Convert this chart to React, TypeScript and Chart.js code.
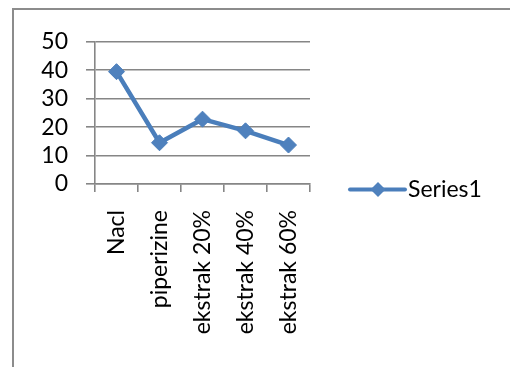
import React, { useEffect, useRef } from "react";
import { Chart, registerables } from "chart.js";

Chart.register(...registerables);

const categories = ["Nacl", "piperizine", "ekstrak 20%", "ekstrak 40%", "ekstrak 60%"];
const series1 = [39.5, 14.5, 22.8, 18.7, 13.7];
const seriesName = "Series1";
const yTicks = [0, 10, 20, 30, 40, 50];

const FONT = "Lato, 'Open Sans', sans-serif";
const FONT_SIZE = 23;
const LINE_COLOR = "#4A7EBB";
const MARKER_FILL = "#4F81BD";
const GRID = "#868686";

const legendPlugin = {
  id: "excelLegend",
  afterDraw(chart: any) {
    const { ctx, chartArea } = chart;
    const ds = chart.data.datasets[0];
    const x0 = chartArea.right + 40;
    const y = chart.height / 2 + 1;
    ctx.save();
    ctx.strokeStyle = ds.borderColor;
    ctx.lineWidth = 4;
    ctx.lineCap = "round";
    ctx.beginPath();
    ctx.moveTo(x0, y);
    ctx.lineTo(x0 + 55, y);
    ctx.stroke();
    const cx = x0 + 28;
    const r = 7.5;
    ctx.fillStyle = ds.pointBackgroundColor;
    ctx.beginPath();
    ctx.moveTo(cx, y - r);
    ctx.lineTo(cx + r, y);
    ctx.lineTo(cx, y + r);
    ctx.lineTo(cx - r, y);
    ctx.closePath();
    ctx.fill();
    ctx.fillStyle = "#000";
    ctx.font = `${FONT_SIZE}px ${FONT}`;
    ctx.textAlign = "left";
    ctx.textBaseline = "middle";
    ctx.fillText(ds.label, x0 + 58, y);
    ctx.restore();
  },
};

export default function App() {
  const ref = useRef<HTMLCanvasElement | null>(null);

  useEffect(() => {
    if (!ref.current) return;
    const chart = new Chart(ref.current, {
      type: "line",
      data: {
        labels: categories,
        datasets: [
          {
            label: seriesName,
            data: series1,
            borderColor: LINE_COLOR,
            backgroundColor: MARKER_FILL,
            borderWidth: 4.5,
            pointStyle: "rectRot",
            pointRadius: 8,
            pointBackgroundColor: MARKER_FILL,
            pointBorderColor: LINE_COLOR,
            pointBorderWidth: 1,
            tension: 0,
          },
        ],
      },
      options: {
        responsive: false,
        maintainAspectRatio: false,
        animation: false,
        devicePixelRatio: 1,
        layout: { padding: { left: 0, top: 28, right: 200, bottom: 0 } },
        plugins: {
          legend: { display: false },
          tooltip: { enabled: false },
        },
        scales: {
          x: {
            type: "category",
            offset: true,
            afterFit(scale: any) {
              scale.height = 183;
            },
            grid: {
              offset: true,
              drawOnChartArea: false,
              drawTicks: true,
              tickLength: 8,
              color: GRID,
              lineWidth: 1.6,
            },
            border: { display: true, color: GRID, width: 1.6 },
            ticks: {
              autoSkip: false,
              minRotation: 90,
              maxRotation: 90,
              padding: 18,
              color: "#000",
              font: { family: FONT, size: FONT_SIZE },
            },
          },
          y: {
            min: yTicks[0],
            max: yTicks[yTicks.length - 1],
            afterFit(scale: any) {
              scale.width = 81;
            },
            afterBuildTicks(scale: any) {
              scale.ticks = yTicks.map((v) => ({ value: v }));
            },
            grid: {
              drawTicks: true,
              tickLength: 9,
              color: GRID,
              lineWidth: 1.6,
            },
            border: { display: true, color: GRID, width: 1.6 },
            ticks: {
              autoSkip: false,
              stepSize: 10,
              padding: 18,
              color: "#000",
              font: { family: FONT, size: FONT_SIZE },
            },
          },
        },
      },
      plugins: [legendPlugin],
    });
    return () => chart.destroy();
  }, []);

  return (
    <div
      style={{
        position: "absolute",
        left: 12,
        top: 8,
        width: 498,
        height: 359,
        boxSizing: "border-box",
        borderLeft: "2px solid #8c8c8c",
        borderTop: "2px solid #8c8c8c",
        background: "#fff",
        overflow: "hidden",
      }}
    >
      <canvas ref={ref} width={496} height={357} style={{ display: "block", width: 496, height: 357 }} />
    </div>
  );
}
